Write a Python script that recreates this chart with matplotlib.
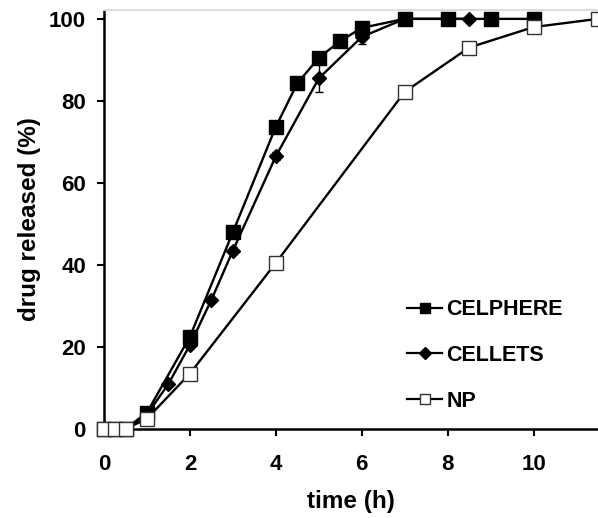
import matplotlib
matplotlib.use("Agg")
import matplotlib.pyplot as plt
from matplotlib.lines import Line2D

# data
t_celphere = [0, 0.25, 0.5, 1, 2, 3, 4, 4.5, 5, 5.5, 6, 7, 8, 9, 10]
celphere = [0, 0, 0, 4, 22.5, 48, 73.7, 84.3, 90.5, 94.6, 97.8, 100, 100, 100, 100]
celphere_err = [0, 0, 0, 0.5, 1.2, 1.5, 1.5, 0, 0, 0, 0.8, 0, 0, 0, 0]

t_cellets = [0, 0.25, 0.5, 1, 1.5, 2, 2.5, 3, 4, 5, 6, 7, 8.5]
cellets = [0, 0, 0, 3.5, 11, 20.5, 31.5, 43.5, 66.5, 85.5, 95.6, 100, 100]
cellets_err = [0, 0, 0, 0.3, 0.5, 0.8, 0.5, 0.8, 1.0, 3.4, 1.8, 0, 0]

t_np = [0, 0.25, 0.5, 1, 2, 4, 7, 8.5, 10, 11.5]
np_rel = [0, 0, 0, 2.5, 13.5, 40.5, 82.2, 93, 98, 100]
np_err = [0, 0, 0, 0.3, 0.3, 0.3, 1.5, 0, 0.3, 0]

plt.rcParams['font.family'] = ['Liberation Sans', 'DejaVu Sans']
plt.rcParams['font.weight'] = 'bold'

fig = plt.figure(figsize=(5.98, 5.18), dpi=100)
ax = fig.add_axes([0.174, 0.172, 0.826, 0.809])

common = dict(color='black', lw=1.7, capsize=3, elinewidth=1, capthick=1,
              clip_on=False)
ax.errorbar(t_celphere, celphere, yerr=celphere_err, marker='s', ms=9.5,
            mfc='black', mec='black', zorder=3, **common)
ax.errorbar(t_cellets, cellets, yerr=cellets_err, marker='D', ms=7.5,
            mfc='black', mec='black', zorder=4, **common)
ax.errorbar(t_np, np_rel, yerr=np_err, marker='s', ms=9.5, mfc='white',
            mec='#333333', mew=1, zorder=5, **common)

ax.set_xlim(0, 11.5)
ax.set_ylim(0, 102.2)
ax.set_xticks([0, 2, 4, 6, 8, 10])
ax.set_yticks([0, 20, 40, 60, 80, 100])
ax.tick_params(labelsize=16, width=1.5, length=5)
ax.tick_params(axis='x', pad=13)
ax.tick_params(axis='y', pad=8)
for lab in ax.get_xticklabels() + ax.get_yticklabels():
    lab.set_fontweight('bold')

for side in ['left', 'bottom']:
    ax.spines[side].set_linewidth(1.8)
ax.spines['top'].set_color('#dddddd')
ax.spines['top'].set_linewidth(1.5)
ax.spines['right'].set_visible(False)

ax.set_xlabel('time (h)', fontsize=17.5, fontweight='bold', labelpad=11)
ax.set_ylabel('drug released (%)', fontsize=17.5, fontweight='bold', labelpad=6)

handles = [
    Line2D([], [], color='black', lw=1.6, marker='s', ms=7, mfc='black'),
    Line2D([], [], color='black', lw=1.6, marker='D', ms=6, mfc='black'),
    Line2D([], [], color='black', lw=1.6, marker='s', ms=7, mfc='white',
           mec='#333333', mew=1),
]
leg = ax.legend(handles, ['CELPHERE', 'CELLETS', 'NP'], loc='lower left',
                bbox_to_anchor=(0.575, -0.005), frameon=False, fontsize=15.5,
                handlelength=1.6, handletextpad=0.2, labelspacing=1.15)
for txt in leg.get_texts():
    txt.set_fontweight('bold')

fig.savefig('out.png', dpi=100)
